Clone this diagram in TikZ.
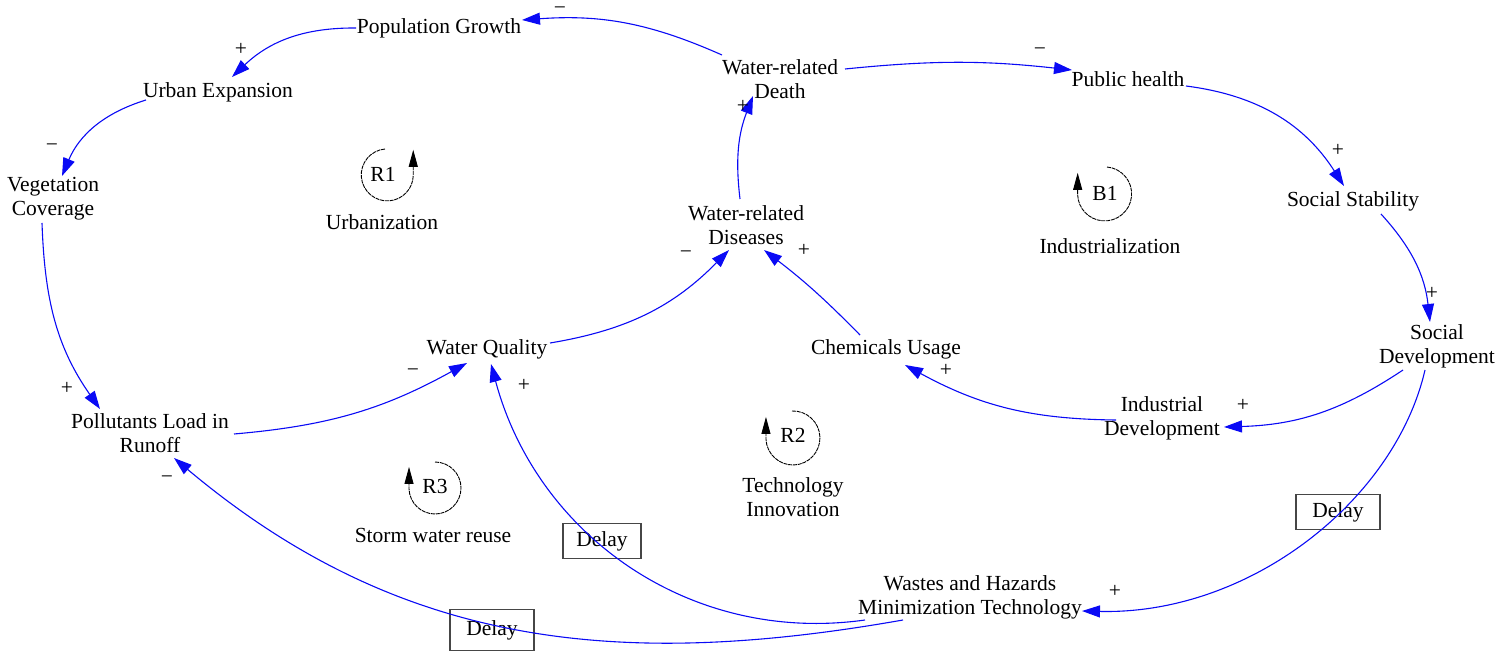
\documentclass[tikz,border=0pt]{standalone}
\usepackage{fontspec}
\setmainfont{Liberation Serif}
\usepackage{tikz}
\usetikzlibrary{arrows.meta, positioning}
\definecolor{cLink}{RGB}{10,10,245}
\definecolor{cFrame}{RGB}{70,70,70}
\tikzset{
  varnode/.style={inner sep=1pt, align=center, font=\fontsize{21.5}{24}\selectfont},
  delaybox/.style={varnode, draw=cFrame, line width=1.3pt, minimum width=84pt,
                   minimum height=35pt},
  link/.style={-{Triangle[length=18pt,width=12pt]}, cLink, line width=1.1pt},
  polarity/.style={varnode},
  looparc/.style={-{Triangle[length=17pt,width=9pt]}, black, line width=0.9pt,
                  dash pattern=on 4pt off 0.8pt},
  loopname/.style={varnode}
}

\begin{document}
\begin{tikzpicture}[x=1pt, y=1pt]
  \useasboundingbox (0,0) rectangle (1508,-652);

  % ── Variables ──
  \node[varnode] (pop)   at (439,-28)  {Population Growth};
  \node[varnode] (urban) at (218,-92)  {Urban Expansion};
  \node[varnode] (veg)   at (53,-199)  {Vegetation\\Coverage};
  \node[varnode] (poll)  at (150,-433) {Pollutants Load in\\Runoff};
  \node[varnode] (wq)    at (487,-349) {Water Quality};
  \node[varnode] (dis)   at (746,-225) {Water-related\\Diseases};
  \node[varnode] (death) at (780,-79)  {Water-related\\Death};
  \node[varnode] (ph)    at (1128,-79) {Public health};
  \node[varnode] (ss)    at (1353,-201) {Social Stability};
  \node[varnode] (sd)    at (1437,-346) {Social\\Development};
  \node[varnode] (ind)   at (1162,-418) {Industrial\\Development};
  \node[varnode] (chem)  at (886,-349) {Chemicals Usage};
  \node[varnode] (waste) at (970,-597) {Wastes and Hazards\\Minimization Technology};

  % ── Delays ──
  \node[delaybox] (delay_sd) at (1338,-512) {Delay};
  \node[delaybox, minimum width=78pt] (delay_wq) at (602,-541) {Delay};
  \node[delaybox, minimum height=41pt] (delay_pl) at (492,-630) {Delay};

  % ── Loop markers ──
  \node[loopname] (r1)  at (383,-174)  {R1};
  \node[loopname] (b1)  at (1105,-193) {B1};
  \node[loopname] (r2)  at (793,-435)  {R2};
  \node[loopname] (r3)  at (435,-486)  {R3};
  \node[loopname] (r1name) at (382,-222)  {Urbanization};
  \node[loopname] (b1name) at (1110,-246) {Industrialization};
  \node[loopname] (r2name) at (793,-497)  {Technology\\Innovation};
  \node[loopname] (r3name) at (433,-535)  {Storm water reuse};

  \draw[looparc] ([shift={(2,25)}]r1.center) arc[start angle=95, end angle=358, radius=26]
      -- ++(0,26);
  \draw[looparc] ([shift={(2,26)}]b1.center) arc[start angle=85, end angle=-178, radius=27]
      -- ++(0,22);
  \draw[looparc] ([shift={(-1,24)}]r2.center) arc[start angle=92, end angle=-178, radius=27]
      -- ++(0,22);
  \draw[looparc] ([shift={(0,24)}]r3.center) arc[start angle=90, end angle=-178, radius=26]
      -- ++(0,22);

  % ── Links ──
  \draw[link] ([shift={(-58,24)}]death.center) to[bend right=14] ([shift={(83,8)}]pop.center);
  \draw[link] ([shift={(-83,0)}]pop.center) to[bend right=22] ([shift={(14,15)}]urban.center);
  \draw[link] ([shift={(-72,-8)}]urban.center) to[bend right=25] ([shift={(9,23)}]veg.center);
  \draw[link] ([shift={(-11,-24)}]veg.center) to[out=-88, in=125] ([shift={(-50,24)}]poll.center);
  \draw[link] ([shift={(84,-1)}]poll.center) to[bend right=12] ([shift={(-20,-14)}]wq.center);
  \draw[link] ([shift={(63,6)}]wq.center) to[bend right=18] ([shift={(-17,-25)}]dis.center);
  \draw[link] ([shift={(-6,26)}]dis.center) to[bend left=14] ([shift={(-27,-17)}]death.center);
  \draw[link] ([shift={(65,10)}]death.center) to[bend left=6] ([shift={(-56,9)}]ph.center);
  \draw[link] ([shift={(58,-7)}]ph.center) to[bend left=25] ([shift={(-9,15)}]ss.center);
  \draw[link] ([shift={(28,-13)}]ss.center) to[bend left=18] ([shift={(-7,24)}]sd.center);
  \draw[link] ([shift={(-34,-24)}]sd.center) to[bend left=16] ([shift={(62,-9)}]ind.center);
  \draw[link] ([shift={(-46,-2)}]ind.center) to[bend left=14] ([shift={(19,-16)}]chem.center);
  \draw[link] ([shift={(-26,14)}]chem.center) to[bend right=4] ([shift={(18,-25)}]dis.center);
  \draw[link] ([shift={(-12,-24)}]sd.center)
      .. controls ([shift={(-42,-154)}]sd.center) and ([shift={(280,-18)}]waste.center)
      .. ([shift={(112,-14)}]waste.center);
  \draw[link] ([shift={(-105,-23)}]waste.center) to[out=188, in=-75] ([shift={(4,-15)}]wq.center);
  \draw[link] ([shift={(-67,-23)}]waste.center) to[out=190, in=-40] ([shift={(24,-25)}]poll.center);

  % ── Polarities ──
  \node[polarity] (s_pop)   at (560,-11)   {−};
  \node[polarity] (s_urban) at (241,-49)   {+};
  \node[polarity] (s_veg)   at (52,-148)   {−};
  \node[polarity] (s_poll)  at (67,-388)   {+};
  \node[polarity] (s_wq)    at (413,-373)  {−};
  \node[polarity] (s_dis)   at (686,-255)  {−};
  \node[polarity] (s_death) at (743,-106)  {+};
  \node[polarity] (s_ph)    at (1040,-52)  {−};
  \node[polarity] (s_ss)    at (1338,-150) {+};
  \node[polarity] (s_sd)    at (1432,-293) {+};
  \node[polarity] (s_ind)   at (1243,-405) {+};
  \node[polarity] (s_chem)  at (946,-370)  {+};
  \node[polarity] (s_dis2)  at (804,-250)  {+};
  \node[polarity] (s_waste) at (1115,-591) {+};
  \node[polarity] (s_wq2)   at (524,-385)  {+};
  \node[polarity] (s_poll2) at (167,-480)  {−};

\end{tikzpicture}
\end{document}
